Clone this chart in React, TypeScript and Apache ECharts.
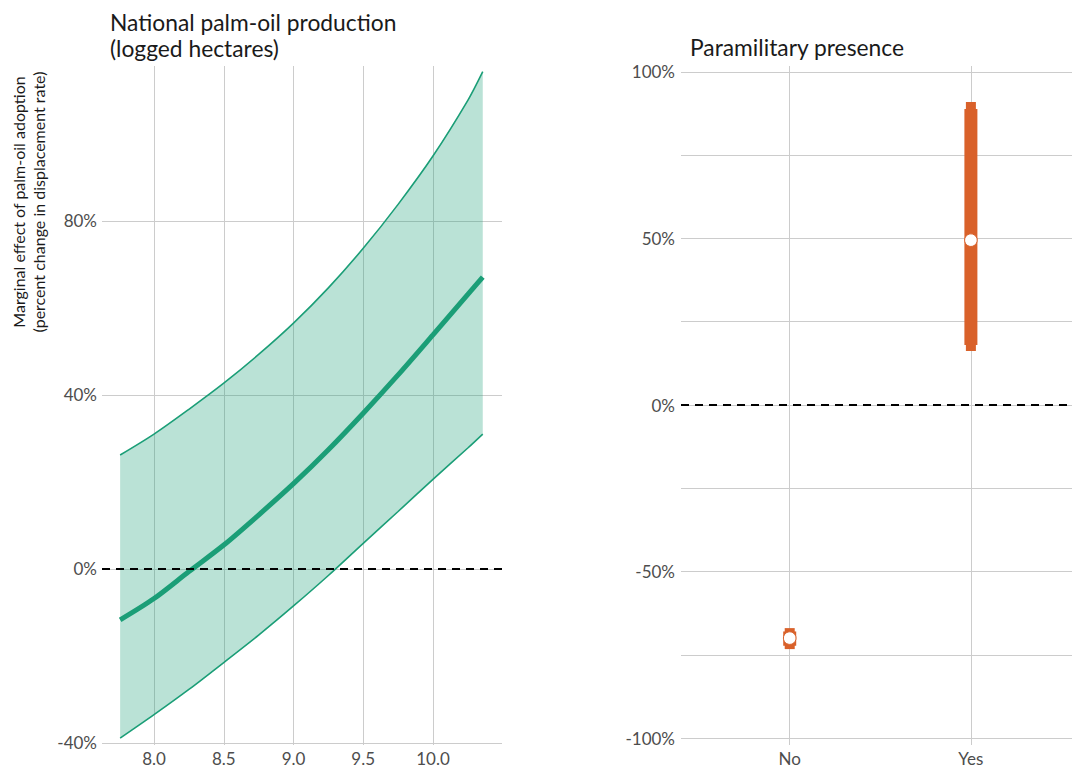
import React, { useEffect, useRef } from 'react';
import * as echarts from 'echarts';

// Left panel: marginal effect across national palm-oil production (logged hectares)
const palmX = [7.757, 8.0, 8.25, 8.5, 8.75, 9.0, 9.25, 9.5, 9.75, 10.0, 10.25, 10.357];
const palmEffect = [-11.7, -6.8, -0.6, 5.5, 12.4, 19.6, 27.4, 35.8, 44.6, 53.8, 63.1, 67.1];
const palmUpper = [26.2, 31.0, 36.7, 42.7, 49.3, 56.5, 64.6, 73.7, 83.8, 94.9, 107.7, 114.3];
const palmLower = [-38.9, -33.5, -27.7, -21.5, -15.2, -8.5, -1.5, 5.9, 13.2, 20.6, 27.8, 31.0];
const palmXTicks = [8.0, 8.5, 9.0, 9.5, 10.0];
const palmYTicks = [-40, 0, 40, 80];

// Right panel: paramilitary presence
const paraCategories = ['No', 'Yes'];
const paraEstimate = [-70, 49.5];
const paraLow95 = [-73.3, 16.2];
const paraHigh95 = [-67.0, 91.0];
const paraLow90 = [-72.3, 18.0];
const paraHigh90 = [-68.0, 88.9];
const paraYTicks = [-100, -50, 0, 50, 100];
const paraYGrid = [-100, -75, -50, -25, 0, 25, 50, 75, 100];

const GREEN = '#1b9e77';
const BAND = 'rgba(27,158,119,0.3)';
const ORANGE = '#d9612a';
const GRIDC = '#cccccc';
const LABELC = '#4d4d4d';
const TITLEC = '#1a1a1a';
const FONT = 'Lato, "Open Sans", sans-serif';

export default function App() {
  const ref = useRef<HTMLDivElement>(null);
  useEffect(() => {
    document.body.style.margin = '0';
    if (!ref.current) return;
    const chart = echarts.init(ref.current, undefined, { renderer: 'svg' });

    const bandData = palmX.map((x, i) => [x, palmLower[i], palmUpper[i]]);
    const lowerData = palmX.map((x, i) => [x, palmLower[i]]);
    const upperData = palmX.map((x, i) => [x, palmUpper[i]]);
    const effectData = palmX.map((x, i) => [x, palmEffect[i]]);
    const paraData = paraCategories.map((_, i) => [
      i + 1, paraLow95[i], paraHigh95[i], paraLow90[i], paraHigh90[i], paraEstimate[i],
    ]);

    const axisLabelBase = { color: LABELC, fontSize: 17, fontFamily: FONT };
    const splitLine = { show: true, lineStyle: { color: GRIDC, width: 1 } };
    const zeroLine = {
      silent: true,
      symbol: 'none',
      label: { show: false },
      lineStyle: { color: '#000', width: 2, type: [8, 6] },
      data: [{ yAxis: 0 }],
    };
    const titleStyle = { fontSize: 22.8, fontWeight: 'normal', color: TITLEC, lineHeight: 26, fontFamily: FONT };

    chart.setOption({
      animation: false,
      textStyle: { fontFamily: FONT },
      title: [
        {
          text: 'National palm-oil production\n(logged hectares)',
          left: 110,
          top: 9,
          padding: 0,
          textStyle: titleStyle,
        },
        {
          text: 'Paramilitary presence',
          left: 690,
          top: 34,
          padding: 0,
          textStyle: titleStyle,
        },
      ],
      graphic: [
        {
          type: 'text',
          x: 28,
          y: 202,
          rotation: Math.PI / 2,
          style: {
            text: 'Marginal effect of palm-oil adoption\n(percent change in displacement rate)',
            align: 'center',
            verticalAlign: 'middle',
            fontSize: 16,
            lineHeight: 20,
            fill: TITLEC,
            fontFamily: FONT,
          },
        },
      ],
      grid: [
        { left: 102, top: 66, width: 400, height: 679 },
        { left: 681, top: 66, width: 391, height: 679 },
      ],
      xAxis: [
        {
          gridIndex: 0,
          type: 'value',
          min: 7.627,
          max: 10.495,
          axisLine: { show: false },
          axisTick: { show: false, customValues: palmXTicks },
          axisLabel: { ...axisLabelBase, customValues: palmXTicks, margin: 5, formatter: (v: number) => v.toFixed(1) },
          splitLine,
        },
        {
          gridIndex: 1,
          type: 'value',
          min: 0.4,
          max: 2.558,
          axisLine: { show: false },
          axisTick: { show: false, customValues: [1, 2] },
          axisLabel: {
            ...axisLabelBase,
            customValues: [1, 2],
            margin: 5,
            formatter: (v: number) => paraCategories[Math.round(v) - 1] ?? '',
          },
          splitLine,
        },
      ],
      yAxis: [
        {
          gridIndex: 0,
          type: 'value',
          min: -40.46,
          max: 115.6,
          axisLine: { show: false },
          axisTick: { show: false, customValues: palmYTicks },
          axisLabel: { ...axisLabelBase, customValues: palmYTicks, margin: 5, formatter: (v: number) => `${v}%` },
          splitLine,
        },
        {
          gridIndex: 1,
          type: 'value',
          min: -102.1,
          max: 101.8,
          axisLine: { show: false },
          axisTick: { show: false, customValues: paraYGrid },
          axisLabel: { ...axisLabelBase, customValues: paraYTicks, margin: 6, formatter: (v: number) => `${v}%` },
          splitLine,
        },
      ],
      series: [
        {
          type: 'custom',
          xAxisIndex: 0,
          yAxisIndex: 0,
          data: bandData,
          encode: { x: 0, y: [1, 2] },
          silent: true,
          z: 1,
          renderItem: (params: any, api: any) => {
            if (params.dataIndex !== 0) return null;
            const top = bandData.map((d) => api.coord([d[0], d[2]]));
            const bottom = bandData.map((d) => api.coord([d[0], d[1]])).reverse();
            return {
              type: 'polygon',
              shape: { points: top.concat(bottom) },
              style: { fill: BAND },
            };
          },
        },
        {
          type: 'line',
          xAxisIndex: 0,
          yAxisIndex: 0,
          data: upperData,
          smooth: 0.3,
          symbol: 'none',
          lineStyle: { color: GREEN, width: 1.6 },
          z: 2,
        },
        {
          type: 'line',
          xAxisIndex: 0,
          yAxisIndex: 0,
          data: lowerData,
          smooth: 0.3,
          symbol: 'none',
          lineStyle: { color: GREEN, width: 1.6 },
          z: 2,
        },
        {
          type: 'line',
          xAxisIndex: 0,
          yAxisIndex: 0,
          data: effectData,
          smooth: 0.3,
          symbol: 'none',
          lineStyle: { color: GREEN, width: 5, cap: 'butt' },
          markLine: zeroLine,
          z: 3,
        },
        {
          type: 'line',
          xAxisIndex: 1,
          yAxisIndex: 1,
          data: [[1, 0]],
          symbol: 'none',
          lineStyle: { opacity: 0 },
          markLine: zeroLine,
          z: 2,
        },
        {
          type: 'custom',
          xAxisIndex: 1,
          yAxisIndex: 1,
          data: paraData,
          encode: { x: 0, y: [1, 2, 3, 4, 5] },
          z: 4,
          renderItem: (params: any, api: any) => {
            const x = api.value(0);
            const a95 = api.coord([x, api.value(1)]);
            const b95 = api.coord([x, api.value(2)]);
            const a90 = api.coord([x, api.value(3)]);
            const b90 = api.coord([x, api.value(4)]);
            const est = api.coord([x, api.value(5)]);
            return {
              type: 'group',
              children: [
                {
                  type: 'rect',
                  shape: { x: a95[0] - 5, y: b95[1], width: 10, height: a95[1] - b95[1] },
                  style: { fill: ORANGE },
                },
                {
                  type: 'rect',
                  shape: { x: a90[0] - 6.5, y: b90[1], width: 13, height: a90[1] - b90[1] },
                  style: { fill: ORANGE },
                },
                {
                  type: 'circle',
                  shape: { cx: est[0], cy: est[1], r: 6.3 },
                  style: { fill: '#ffffff', stroke: ORANGE, lineWidth: 1 },
                },
              ],
            };
          },
        },
      ],
    });
    return () => chart.dispose();
  }, []);
  return <div ref={ref} style={{ width: 1072, height: 770 }} />;
}
